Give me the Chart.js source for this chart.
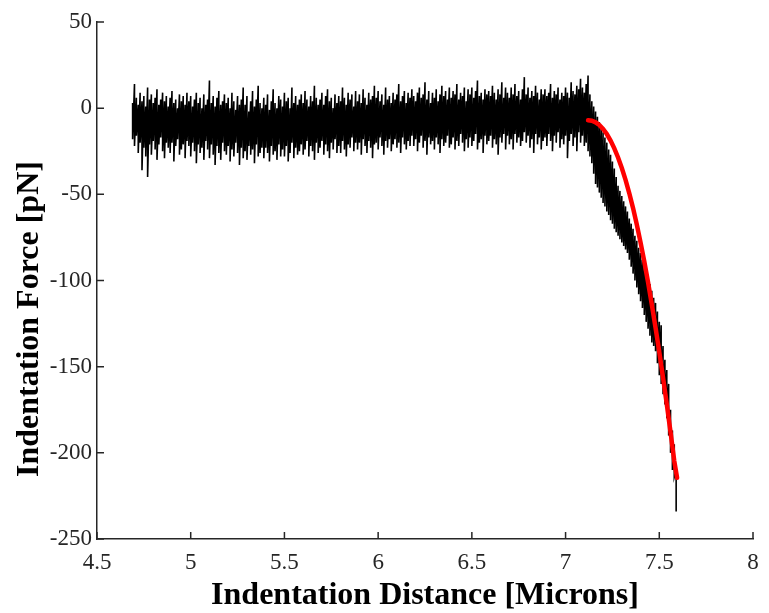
<!DOCTYPE html>
<html>
<head>
<meta charset="utf-8">
<script src="https://cdn.jsdelivr.net/npm/chart.js@4"></script>
<style>
  html, body { margin: 0; padding: 0; background: #fff; }
  #wrap { width: 769px; height: 613px; }
</style>
</head>
<body>
<div id="wrap"><canvas id="forceChart" width="769" height="613"></canvas></div>
<script>
// 軸の目盛り
const xTicks = [4.5, 5, 5.5, 6, 6.5, 7, 7.5, 8];
const xTickLabels = ['4.5', '5', '5.5', '6', '6.5', '7', '7.5', '8'];
const yTicks = [-250, -200, -150, -100, -50, 0, 50];
const yTickLabels = ['-250', '-200', '-150', '-100', '-50', '0', '50'];

// 測定データ（各位置でのノイズ帯の上端・下端）
const distance = [
  4.69, 4.70, 4.71, 4.72, 4.73, 4.74, 4.75, 4.76, 4.77, 4.78,
  4.79, 4.80, 4.81, 4.82, 4.83, 4.84, 4.85, 4.86, 4.87, 4.88,
  4.89, 4.90, 4.91, 4.92, 4.93, 4.94, 4.95, 4.96, 4.97, 4.98,
  4.99, 5.00, 5.01, 5.02, 5.03, 5.04, 5.05, 5.06, 5.07, 5.08,
  5.09, 5.10, 5.11, 5.12, 5.13, 5.14, 5.15, 5.16, 5.17, 5.18,
  5.19, 5.20, 5.21, 5.22, 5.23, 5.24, 5.25, 5.26, 5.27, 5.28,
  5.29, 5.30, 5.31, 5.32, 5.33, 5.34, 5.35, 5.36, 5.37, 5.38,
  5.39, 5.40, 5.41, 5.42, 5.43, 5.44, 5.45, 5.46, 5.47, 5.48,
  5.49, 5.50, 5.51, 5.52, 5.53, 5.54, 5.55, 5.56, 5.57, 5.58,
  5.59, 5.60, 5.61, 5.62, 5.63, 5.64, 5.65, 5.66, 5.67, 5.68,
  5.69, 5.70, 5.71, 5.72, 5.73, 5.74, 5.75, 5.76, 5.77, 5.78,
  5.79, 5.80, 5.81, 5.82, 5.83, 5.84, 5.85, 5.86, 5.87, 5.88,
  5.89, 5.90, 5.91, 5.92, 5.93, 5.94, 5.95, 5.96, 5.97, 5.98,
  5.99, 6.00, 6.01, 6.02, 6.03, 6.04, 6.05, 6.06, 6.07, 6.08,
  6.09, 6.10, 6.11, 6.12, 6.13, 6.14, 6.15, 6.16, 6.17, 6.18,
  6.19, 6.20, 6.21, 6.22, 6.23, 6.24, 6.25, 6.26, 6.27, 6.28,
  6.29, 6.30, 6.31, 6.32, 6.33, 6.34, 6.35, 6.36, 6.37, 6.38,
  6.39, 6.40, 6.41, 6.42, 6.43, 6.44, 6.45, 6.46, 6.47, 6.48,
  6.49, 6.50, 6.51, 6.52, 6.53, 6.54, 6.55, 6.56, 6.57, 6.58,
  6.59, 6.60, 6.61, 6.62, 6.63, 6.64, 6.65, 6.66, 6.67, 6.68,
  6.69, 6.70, 6.71, 6.72, 6.73, 6.74, 6.75, 6.76, 6.77, 6.78,
  6.79, 6.80, 6.81, 6.82, 6.83, 6.84, 6.85, 6.86, 6.87, 6.88,
  6.89, 6.90, 6.91, 6.92, 6.93, 6.94, 6.95, 6.96, 6.97, 6.98,
  6.99, 7.00, 7.01, 7.02, 7.03, 7.04, 7.05, 7.06, 7.07, 7.08,
  7.09, 7.10,
  7.11, 7.12, 7.13, 7.14, 7.15, 7.16, 7.17, 7.18, 7.19, 7.20,
  7.21, 7.22, 7.23, 7.24, 7.25, 7.26, 7.27, 7.28, 7.29, 7.30,
  7.31, 7.32, 7.33, 7.34, 7.35, 7.36, 7.37, 7.38, 7.39, 7.40,
  7.41, 7.42, 7.43, 7.44, 7.45, 7.46, 7.47, 7.48, 7.49, 7.50,
  7.51, 7.52, 7.53, 7.54, 7.55, 7.56, 7.57, 7.58, 7.59
];
const forceHigh = [
  3, 14, 6, 2, 9, 4, 7, 1, 12, 5,
  8, 3, 6, 11, 2, 5, 9, 4, 7, 1,
  6, 10, 3, 5, 0, 8, 4, 7, 2, 9,
  4, 7, 1, 5, 9, 3, 6, 0, 8, 2,
  5, 16, 3, 7, 1, 6, 10, 2, 4, 8,
  3, 6, 0, 9, 4, -1, 7, 2, 5, 12,
  2, 7, -2, 4, 10, 1, 5, 13, 3, 0,
  6, 2, 8, -1, 4, 11, 3, 0, 7, 5,
  1, 9, 4, 6, 0, 12, 3, 7, 2, 5,
  8, 3, 10, 5, 1, 7, 4, 13, 6, 2,
  5, 9, 2, 7, 11, 4, 6, 0, 8, 3,
  7, 4, 12, 6, 2, 9, 5, 8, 1, 10,
  4, 8, 3, 11, 6, 2, 9, 5, 7, 13,
  6, 10, 4, 8, 2, 12, 5, 7, 3, 9,
  5, 8, 14, 4, 7, 10, 3, 9, 6, 11,
  7, 4, 9, 12, 6, 8, 15, 5, 10, 3,
  9, 6, 11, 4, 8, 13, 7, 10, 5, 12,
  6, 10, 8, 14, 5, 9, 7, 12, 4, 11,
  8, 12, 6, 10, 16, 7, 9, 5, 11, 8,
  10, 7, 13, 9, 5, 11, 8, 15, 6, 12,
  9, 6, 12, 8, 14, 7, 10, 5, 11, 18,
  8, 12, 6, 10, 7, 13, 9, 5, 11, 8,
  11, 7, 9, 14, 6, 10, 8, 12, 5, 9,
  7, 12, 9, 6, 15, 10, 8, 13, 11, 17,
  12, 9,
  14, 19, 8, 4, 1, -2, -5, -8, -11, -14,
  -17, -20, -24, -27, -31, -35, -40, -45, -48, -51,
  -54, -57, -60, -64, -67, -70, -74, -77, -81, -84,
  -88, -91, -95, -99, -102, -106, -110, -113, -118, -124,
  -126, -138, -146, -152, -160, -175, -187, -195, -210
];
const forceLow = [
  -18, -22, -16, -26, -20, -36, -23, -28, -40, -21,
  -27, -19, -24, -30, -21, -17, -25, -29, -20, -23,
  -26, -20, -31, -22, -18, -27, -24, -21, -29, -19,
  -22, -28, -20, -25, -32, -21, -26, -23, -30, -19,
  -24, -29, -21, -27, -33, -22, -26, -30, -20, -25,
  -27, -22, -31, -24, -28, -20, -26, -33, -23, -29,
  -25, -30, -22, -27, -24, -32, -21, -28, -26, -23,
  -29, -23, -26, -31, -22, -27, -25, -30, -21, -28,
  -24, -28, -22, -31, -26, -20, -29, -23, -27, -25,
  -21, -27, -24, -19, -28, -22, -25, -30, -20, -26,
  -23, -19, -27, -21, -25, -29, -20, -24, -18, -26,
  -22, -26, -19, -24, -28, -21, -23, -17, -25, -20,
  -24, -20, -27, -18, -22, -26, -19, -23, -29, -21,
  -20, -24, -17, -22, -27, -19, -23, -18, -25, -21,
  -18, -23, -20, -26, -17, -21, -24, -19, -22, -16,
  -22, -18, -25, -20, -16, -23, -19, -27, -17, -21,
  -19, -24, -17, -21, -26, -18, -22, -20, -16, -23,
  -21, -17, -24, -19, -22, -15, -20, -25, -18, -23,
  -17, -22, -19, -15, -24, -20, -18, -26, -16, -21,
  -19, -16, -23, -18, -21, -27, -17, -20, -15, -24,
  -16, -21, -18, -24, -15, -20, -17, -22, -19, -14,
  -20, -16, -23, -18, -26, -15, -21, -17, -24, -19,
  -17, -22, -15, -19, -25, -16, -20, -14, -23, -18,
  -21, -16, -29, -19, -15, -22, -17, -25, -14, -20,
  -16, -22,
  -20, -25, -28, -32, -38, -44, -46, -49, -52, -55,
  -57, -60, -62, -65, -67, -70, -72, -74, -76, -78,
  -80, -82, -84, -88, -92, -96, -100, -104, -108, -112,
  -116, -120, -124, -128, -132, -136, -138, -141, -148, -155,
  -160, -166, -172, -180, -190, -200, -210, -214, -234
];

// フィット曲線
const fitDistance = [
  7.12, 7.14, 7.16, 7.18, 7.20, 7.22, 7.24, 7.26, 7.28, 7.30,
  7.32, 7.34, 7.36, 7.38, 7.40, 7.42, 7.44, 7.46, 7.48, 7.50,
  7.52, 7.54, 7.56, 7.58, 7.595
];
const fitForce = [
  -7, -7.3, -8.2, -9.7, -12, -15, -18.8, -23.3, -28.6, -34.7,
  -41.6, -49.4, -58, -67.5, -77.9, -89, -101, -113.8, -127.3, -141.5,
  -156.3, -171.8, -188, -204.8, -214.5
];

const axisColor = '#262626';
const serif = '"Liberation Serif", "Times New Roman", serif';

function buildMeasured() {
  const pts = [];
  distance.forEach((x, i) => {
    pts.push({ x: x, y: forceHigh[i] });
    pts.push({ x: x, y: forceLow[i] });
  });
  return pts;
}

// 内向きの目盛りと y 軸ラベル
const matlabAxes = {
  id: 'matlabAxes',
  afterDraw(chart) {
    const { ctx, chartArea, scales } = chart;
    ctx.save();
    ctx.strokeStyle = axisColor;
    ctx.lineWidth = 1.5;
    ctx.beginPath();
    xTicks.forEach(v => {
      const px = scales.x.getPixelForValue(v);
      ctx.moveTo(px, chartArea.bottom);
      ctx.lineTo(px, chartArea.bottom - 7);
    });
    yTicks.forEach(v => {
      const py = scales.y.getPixelForValue(v);
      ctx.moveTo(chartArea.left, py);
      ctx.lineTo(chartArea.left + 7, py);
    });
    ctx.stroke();

    ctx.fillStyle = '#000';
    ctx.font = 'bold 32px ' + serif;
    ctx.textAlign = 'center';
    ctx.textBaseline = 'alphabetic';
    ctx.translate(38, 319);
    ctx.rotate(-Math.PI / 2);
    ctx.fillText('Indentation Force [pN]', 0, 0);
    ctx.restore();
  }
};

const ctx = document.getElementById('forceChart').getContext('2d');
new Chart(ctx, {
  type: 'line',
  data: {
    datasets: [
      {
        label: 'Fit',
        data: fitDistance.map((x, i) => ({ x: x, y: fitForce[i] })),
        borderColor: '#ff0000',
        borderWidth: 4.5,
        pointRadius: 0,
        tension: 0,
        borderCapStyle: 'round'
      },
      {
        label: 'Measured',
        data: buildMeasured(),
        borderColor: '#000000',
        borderWidth: 1.6,
        pointRadius: 0,
        tension: 0
      }
    ]
  },
  options: {
    responsive: false,
    animation: false,
    layout: { padding: { left: 0, right: 16, top: 22, bottom: 0 } },
    plugins: {
      legend: { display: false },
      tooltip: { enabled: false }
    },
    scales: {
      x: {
        type: 'linear',
        min: 4.5,
        max: 8,
        afterBuildTicks: s => { s.ticks = xTicks.map(v => ({ value: v })); },
        afterFit: s => { s.height = 74; },
        grid: { display: false, drawTicks: false },
        border: { display: true, color: axisColor, width: 1.5 },
        ticks: {
          padding: 10,
          color: axisColor,
          font: { family: serif, size: 23 },
          maxRotation: 0,
          autoSkip: false,
          callback: (v, i) => xTickLabels[i]
        },
        title: {
          display: true,
          text: 'Indentation Distance [Microns]',
          color: '#000',
          font: { family: serif, size: 32, weight: 'bold', lineHeight: 1 },
          padding: { top: 0, bottom: 1 }
        }
      },
      y: {
        type: 'linear',
        min: -250,
        max: 50,
        afterBuildTicks: s => { s.ticks = yTicks.map(v => ({ value: v })); },
        afterFit: s => { s.width = 97; },
        grid: { display: false, drawTicks: false },
        border: { display: true, color: axisColor, width: 1.5 },
        ticks: {
          padding: 5,
          color: axisColor,
          font: { family: serif, size: 23 },
          autoSkip: false,
          callback: (v, i) => yTickLabels[i]
        }
      }
    }
  },
  plugins: [matlabAxes]
});
</script>
</body>
</html>
